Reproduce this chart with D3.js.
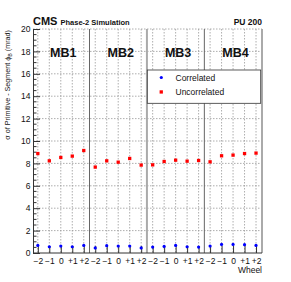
<!DOCTYPE html>
<html>
<head>
<meta charset="utf-8">
<script src="https://cdn.jsdelivr.net/npm/d3@7"></script>
<style>
  body { margin: 0; background: #fff; }
  svg { font-family: "Liberation Sans", Arial, sans-serif; }
</style>
</head>
<body>
<div id="chart"></div>
<script>
// datos
const stations = ['MB1', 'MB2', 'MB3', 'MB4'];
const wheels = ['\u22122', '\u22121', '0', '+1', '+2'];
const correlated = [0.68, 0.56, 0.62, 0.56, 0.68, 0.45, 0.65, 0.62, 0.62, 0.45,
                    0.53, 0.59, 0.68, 0.56, 0.53, 0.62, 0.77, 0.77, 0.74, 0.68];
const uncorrelated = [8.88, 8.23, 8.53, 8.65, 9.15, 7.67, 8.23, 8.11, 8.44, 7.85,
                      7.87, 8.17, 8.29, 8.20, 8.26, 8.14, 8.68, 8.74, 8.88, 8.92];
const yTicks = [0, 2, 4, 6, 8, 10, 12, 14, 16, 18, 20];

const W = 291, H = 282;
const mLeft = 33, mRight = 262, mTop = 29, mBottom = 253;

const svg = d3.select('#chart').append('svg')
    .attr('width', W)
    .attr('height', H);

svg.append('rect').attr('width', W).attr('height', H).attr('fill', '#fff');

const idx = d3.range(stations.length * wheels.length);

const x = d3.scaleLinear().domain([-0.42, 19.52]).range([mLeft, mRight]);
const y = d3.scaleLinear().domain([0, 20]).range([mBottom, mTop]);

// rejilla punteada
svg.append('g').selectAll('line')
    .data(idx)
    .enter().append('line')
    .attr('x1', d => x(d)).attr('x2', d => x(d))
    .attr('y1', mTop).attr('y2', mBottom)
    .attr('stroke', '#999').attr('stroke-width', 0.8)
    .attr('stroke-dasharray', '1.5,1.5');

svg.append('g').selectAll('line')
    .data(yTicks.slice(1))
    .enter().append('line')
    .attr('x1', mLeft).attr('x2', mRight)
    .attr('y1', d => y(d)).attr('y2', d => y(d))
    .attr('stroke', '#999').attr('stroke-width', 0.8)
    .attr('stroke-dasharray', '1.5,1.5');

// separadores de estaciones
const seps = [4.5, 9.5, 14.5];
svg.append('g').selectAll('line')
    .data(seps)
    .enter().append('line')
    .attr('x1', d => x(d)).attr('x2', d => x(d))
    .attr('y1', mTop).attr('y2', mBottom)
    .attr('stroke', (d, i) => i === 1 ? '#aaa' : '#666')
    .attr('stroke-width', (d, i) => i === 1 ? 2 : 1);

// borde derecho
svg.append('line')
    .attr('x1', mRight).attr('x2', mRight)
    .attr('y1', mTop).attr('y2', mBottom)
    .attr('stroke', '#aaa').attr('stroke-width', 2);

// etiquetas MB
svg.append('g').selectAll('text')
    .data(stations)
    .enter().append('text')
    .attr('x', (d, i) => x(2 + 5 * i) + 2.5)
    .attr('y', 57)
    .attr('text-anchor', 'middle')
    .attr('font-weight', 'bold')
    .attr('font-size', 12.5)
    .attr('fill', '#111')
    .text(d => d);

// eje X
const xAxis = d3.axisBottom(x)
    .tickValues(idx)
    .tickFormat(d => wheels[d % 5])
    .tickSizeInner(-7)
    .tickSizeOuter(0)
    .tickPadding(4);

const gx = svg.append('g')
    .attr('transform', `translate(0,${mBottom})`)
    .call(xAxis);
gx.select('.domain').attr('stroke', '#333').attr('d', `M${mLeft},0H${mRight}`);
gx.selectAll('.tick line').attr('stroke', '#333');
gx.selectAll('text').attr('font-size', 8.5).attr('fill', '#111').attr('dy', '0.85em')
    .attr('font-family', '"Liberation Sans", Arial, sans-serif');

// eje Y
const yAxis = d3.axisLeft(y)
    .tickValues(yTicks)
    .tickSizeInner(-7)
    .tickSizeOuter(0)
    .tickPadding(2.5);

const gy = svg.append('g')
    .attr('transform', `translate(${mLeft},0)`)
    .call(yAxis);
gy.select('.domain').attr('stroke', '#333');
gy.selectAll('.tick line').attr('stroke', '#333');
gy.selectAll('text').attr('font-size', 8.5).attr('fill', '#111')
    .attr('font-family', '"Liberation Sans", Arial, sans-serif');

// ticks menores
const minor = d3.range(0, 20.01, 0.5).filter(v => v % 2 !== 0);
svg.append('g').selectAll('line')
    .data(minor)
    .enter().append('line')
    .attr('x1', mLeft).attr('x2', mLeft + 3.5)
    .attr('y1', d => y(d)).attr('y2', d => y(d))
    .attr('stroke', '#333');

// leyenda
const lg = svg.append('g');
lg.append('rect')
    .attr('x', 147.3).attr('y', 70)
    .attr('width', 113.4).attr('height', 33.3)
    .attr('fill', '#fff').attr('stroke', '#333').attr('stroke-width', 0.8);
lg.append('circle').attr('cx', 161.3).attr('cy', 77.5).attr('r', 1.6).attr('fill', '#0000ff');
lg.append('rect').attr('x', 159.6).attr('y', 90.3).attr('width', 3.3).attr('height', 3.3).attr('fill', '#ff0000');
lg.append('text').attr('x', 175.5).attr('y', 80.6).attr('font-size', 8.5).attr('fill', '#111').text('Correlated');
lg.append('text').attr('x', 175.5).attr('y', 95).attr('font-size', 8.5).attr('fill', '#111').text('Uncorrelated');

// puntos
svg.append('g').selectAll('rect')
    .data(uncorrelated)
    .enter().append('rect')
    .attr('x', (d, i) => x(i) - 1.65)
    .attr('y', d => y(d) - 1.65)
    .attr('width', 3.3).attr('height', 3.3)
    .attr('fill', '#ff0000');

svg.append('g').selectAll('circle')
    .data(correlated)
    .enter().append('circle')
    .attr('cx', (d, i) => x(i))
    .attr('cy', d => y(d))
    .attr('r', 1.6)
    .attr('fill', '#0000ff');

// titulos
const t = svg.append('text').attr('x', mLeft).attr('y', 25).attr('fill', '#111').attr('font-weight', 'bold');
t.append('tspan').attr('font-size', 11).text('CMS');
t.append('tspan').attr('font-size', 7.5).attr('dx', 3).text('Phase-2 Simulation');

svg.append('text')
    .attr('x', mRight).attr('y', 25)
    .attr('text-anchor', 'end')
    .attr('font-weight', 'bold').attr('font-size', 8.5).attr('fill', '#111')
    .text('PU 200');

svg.append('text')
    .attr('x', mRight).attr('y', 273)
    .attr('text-anchor', 'end')
    .attr('font-size', 8.5).attr('fill', '#111')
    .text('Wheel');

const yl = svg.append('text')
    .attr('transform', 'translate(9.5,30) rotate(-90)')
    .attr('text-anchor', 'end')
    .attr('font-size', 7.2).attr('fill', '#111');
yl.append('tspan').text('\u03c3 of Primitive - Segment \u03d5');
yl.append('tspan').attr('font-size', 5.2).attr('dy', 2).text('B');
yl.append('tspan').attr('dy', -2).text(' (mrad)');
</script>
</body>
</html>
